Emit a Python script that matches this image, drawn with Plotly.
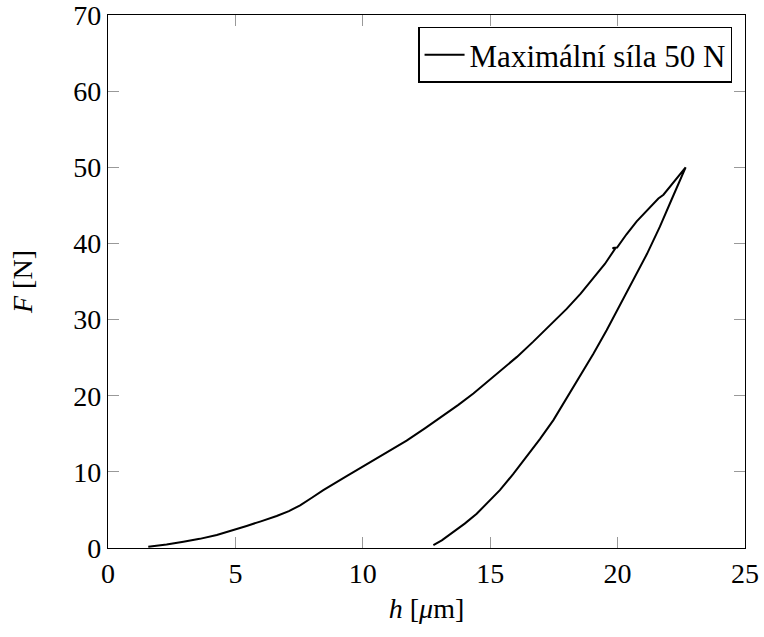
import plotly.graph_objects as go

# Loading branch (h in µm, F in N)
h_load = [1.58, 2.3, 2.96, 3.6, 4.27, 4.85, 5.44, 6.0, 6.62, 7.1, 7.54, 8.0, 8.45,
          9.3, 10.15, 10.95, 11.72, 12.45, 13.16, 13.75, 14.34, 14.85, 15.38, 16.05,
          16.69, 17.35, 18.0, 18.55, 19.05, 19.5, 19.9, 19.8, 19.98, 20.35, 20.75,
          21.2, 21.6, 21.8, 22.25, 22.67]
F_load = [0.17, 0.45, 0.83, 1.2, 1.7, 2.25, 2.9, 3.5, 4.2, 4.85, 5.6, 6.6, 7.6,
          9.3, 11.0, 12.55, 14.1, 15.75, 17.4, 18.8, 20.3, 21.7, 23.2, 25.1,
          27.1, 29.2, 31.4, 33.4, 35.4, 37.3, 39.3, 39.4, 39.45, 41.2, 42.9,
          44.5, 45.9, 46.4, 48.2, 50.0]
# Unloading branch
h_unload = [22.67, 22.15, 21.66, 21.15, 20.62, 20.1, 19.57, 19.05, 18.52, 18.0, 17.48,
            16.95, 16.43, 15.9, 15.38, 14.9, 14.47, 14.0, 13.55, 13.1, 12.77]
F_unload = [50.0, 46.0, 42.2, 38.6, 35.2, 31.9, 28.6, 25.5, 22.5, 19.6, 16.8,
            14.3, 12.0, 9.7, 7.6, 5.9, 4.5, 3.2, 2.1, 1.0, 0.39]

series_name = "Maximální síla 50 N"
x_ticks = [0, 5, 10, 15, 20, 25]
y_ticks = [0, 10, 20, 30, 40, 50, 60, 70]

h_all = h_load + h_unload[1:]
F_all = F_load + F_unload[1:]

FONT = "Liberation Serif"

fig = go.Figure()
fig.add_trace(go.Scatter(x=h_all, y=F_all, mode="lines", name=series_name,
                         line=dict(color="black", width=2),
                         showlegend=True))

axis_common = dict(
    showgrid=False, zeroline=False, showline=True, linecolor="black", linewidth=1.3,
    mirror="allticks", ticks="inside", ticklen=11, tickcolor="#999999", tickwidth=1,
    tickfont=dict(family=FONT, size=28, color="black"), automargin=False,
    ticklabeloverflow="allow",
)
fig.update_xaxes(range=[0, 25], tickvals=x_ticks, ticktext=[str(v) for v in x_ticks],
                 title=dict(text="<i>h</i> [<i>μ</i>m]", font=dict(family=FONT, size=28, color="black"), standoff=10),
                 **axis_common)
fig.update_yaxes(range=[0, 70], tickvals=y_ticks, ticktext=[str(v) for v in y_ticks],
                 title=dict(text="<i>F</i> [N]", font=dict(family=FONT, size=28, color="black"), standoff=32),
                 **axis_common)

fig.update_layout(
    width=764, height=637,
    margin=dict(l=108, r=19, t=15, b=89),
    paper_bgcolor="white", plot_bgcolor="white",
    font=dict(family=FONT, color="black"),
    showlegend=True,
    legend=dict(x=0.98, y=0.978, xanchor="right", yanchor="top",
                bgcolor="white", bordercolor="black", borderwidth=1.3,
                font=dict(family=FONT, size=31, color="black"),
                itemwidth=40, tracegroupgap=0),
)

fig.write_html("out.html", config={"displayModeBar": False},
               post_script="document.body.style.margin='0px';document.body.style.overflow='hidden';")
